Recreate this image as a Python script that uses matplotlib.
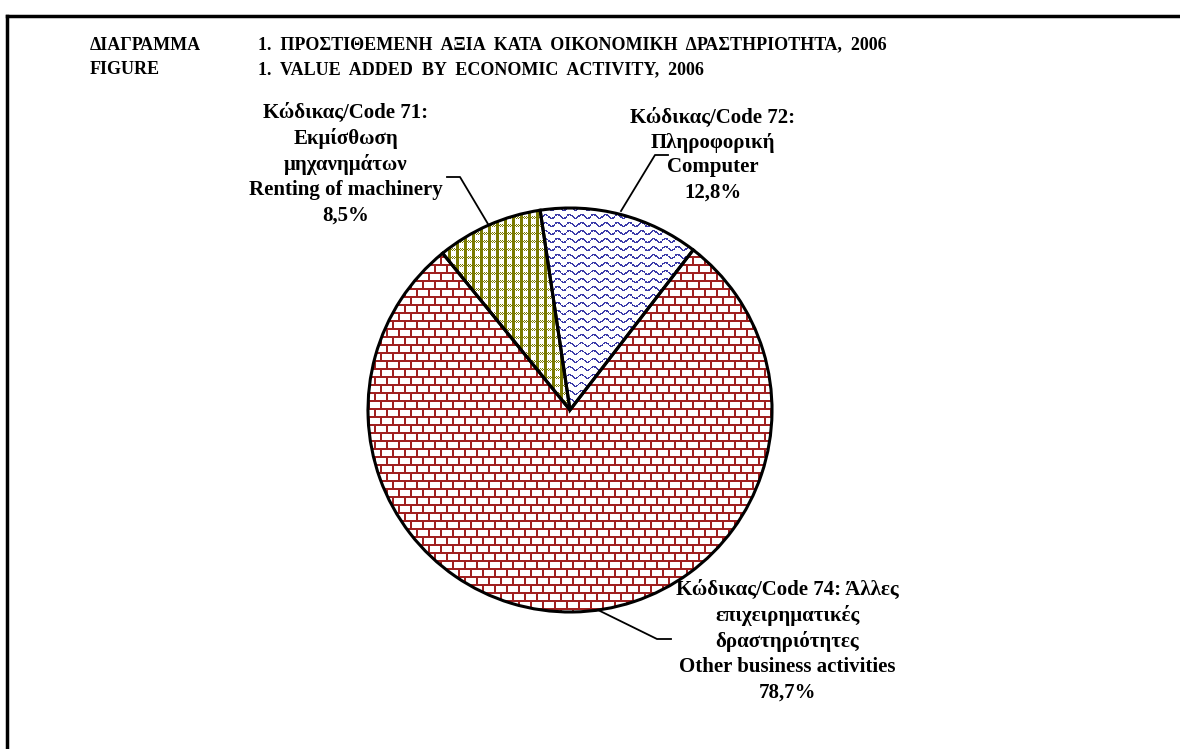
import numpy as np
import matplotlib
matplotlib.use('Agg')
import matplotlib.pyplot as plt

plt.rcParams['font.family'] = ['Liberation Serif', 'DejaVu Serif']
plt.rcParams['font.weight'] = 'bold'

# data
codes = ['71', '72', '74']
shares = [8.5, 12.8, 78.7]
labels = [
    'Κώδικας/Code 71:\nΕκμίσθωση\nμηχανημάτων\nRenting of machinery\n8,5%',
    'Κώδικας/Code 72:\nΠληροφορική\nComputer\n12,8%',
    'Κώδικας/Code 74: Άλλες\nεπιχειρηματικές\nδραστηριότητες\nOther business activities\n78,7%',
]
title_gr = ('ΔΙΑΓΡΑΜΜΑ', '1.  ΠΡΟΣΤΙΘΕΜΕΝΗ  ΑΞΙΑ  ΚΑΤΑ  ΟΙΚΟΝΟΜΙΚΗ  ΔΡΑΣΤΗΡΙΟΤΗΤΑ,  2006')
title_en = ('FIGURE', '1.  VALUE  ADDED  BY  ECONOMIC  ACTIVITY,  2006')

W, H = 1180, 749
fig = plt.figure(figsize=(W / 100, H / 100), dpi=100)

# frame (cropped box: top and left edges visible)
fig.add_artist(plt.Line2D([7 / W, 1.0], [1 - 16 / H, 1 - 16 / H], color='black', lw=2.5))
fig.add_artist(plt.Line2D([7 / W, 7 / W], [0.0, 1 - 16 / H], color='black', lw=2.5))

tkw = dict(fontsize=13, va='center', ha='left')
fig.text(90 / W, 1 - 45 / H, title_gr[0], **tkw)
fig.text(258 / W, 1 - 45 / H, title_gr[1], **tkw)
fig.text(90 / W, 1 - 70 / H, title_en[0], **tkw)
fig.text(258 / W, 1 - 70 / H, title_en[1], **tkw)

cx, cy, R = 570, 410, 202
ax = fig.add_axes([(cx - R) / W, (H - cy - R) / H, 2 * R / W, 2 * R / H])

wedges, _ = ax.pie(shares, startangle=129.1, counterclock=False, radius=1,
                   colors=['none'] * 3,
                   wedgeprops=dict(edgecolor='black', linewidth=2.2))

# textures (pixel patterns)
n = 2 * R
jj, ii = np.meshgrid(np.arange(n), np.arange(n))


def rgba(mask, color):
    img = np.ones((n, n, 4))
    c = np.array(matplotlib.colors.to_rgb(color))
    img[mask, :3] = c
    return img


# brick
row = ii // 8
offs = np.where(row % 2 == 0, 0, 6)
brick = (ii % 8 < 2) | (((jj + offs) % 12) < 2)
brick_img = rgba(brick, '#a02020')
# wave
wave_y = 2.0 * np.sin(2 * np.pi * jj / 12.0)
wave = np.abs(((ii - wave_y) % 8) - 4) > 3.0
wave_img = rgba(wave, '#3a3aa8')
# check / plaid
vbar = (jj % 8) < 3
hband = (ii % 8) < 3
fine = ((ii + jj) % 2 == 0) & hband
check = vbar | fine
check_img = rgba(check, '#7a7a00')

for w, img in zip(wedges, [check_img, wave_img, brick_img]):
    im = ax.imshow(img, extent=[-1, 1, -1, 1], interpolation='nearest', zorder=0)
    im.set_clip_path(w)
    w.set_zorder(2)
ax.set_xlim(-1, 1)
ax.set_ylim(-1, 1)
ax.axis('off')


def d(px, py):
    return ((px - cx) / R, (cy - py) / R)


lab_kw = dict(fontsize=15, ha='center', va='center', linespacing=1.33)
ax.text(*d(346, 164), labels[0], clip_on=False, **lab_kw)
ax.text(*d(713, 155), labels[1], clip_on=False, **lab_kw)
ax.text(*d(787, 641), labels[2], clip_on=False, zorder=5, **lab_kw)

# leader lines
for pts in ([(447, 177), (460, 177), (488, 224)],
            [(668, 155), (655, 155), (621, 211)],
            [(671, 639), (657, 639), (598, 610)]):
    xs, ys = zip(*[d(*p) for p in pts])
    ax.plot(xs, ys, color='black', lw=1.3, clip_on=False, zorder=3)

plt.savefig('out.png', dpi=100)
